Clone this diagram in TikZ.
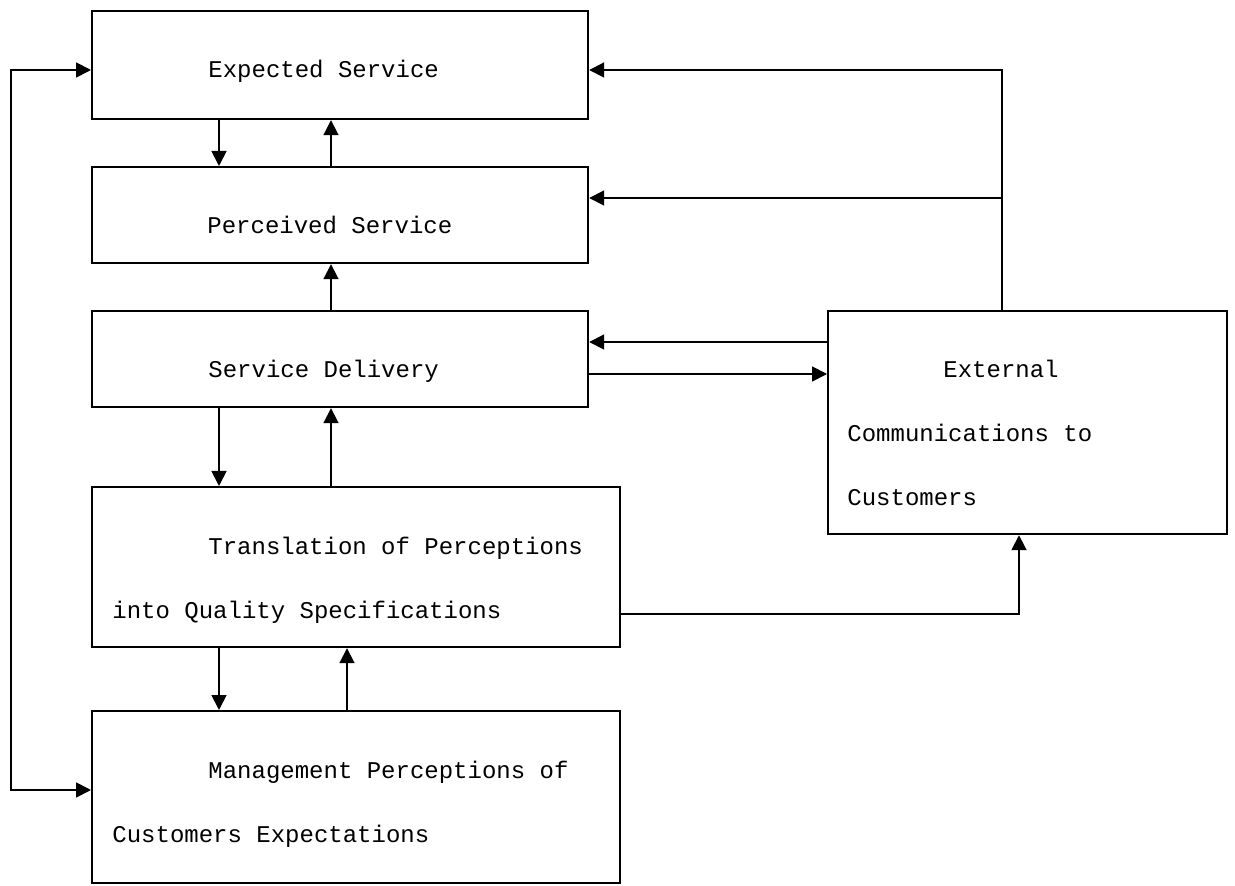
\documentclass[tikz,border=0pt]{standalone}
\usepackage{fontspec}
\setmonofont{Liberation Mono}
\usetikzlibrary{arrows.meta,positioning}

\begin{document}
\begin{tikzpicture}[
    x=0.5pt, y=-0.5pt,
    box/.style={draw, line width=1.1pt, anchor=north west, inner sep=0pt},
    txt/.style={anchor=base west, align=left, inner sep=0pt, font=\fontsize{12pt}{32pt}\selectfont\ttfamily},
    arrow/.style={-{Triangle[length=7.5pt, width=7.5pt]}, line width=0.9pt},
    dual/.style={{Triangle[length=7.5pt, width=7.5pt]}-{Triangle[length=7.5pt, width=7.5pt]}, line width=0.9pt}
]
    \useasboundingbox (0,0) rectangle (1235,886);
    % boxes
    \node[box, minimum width=248pt, minimum height=54pt] (expected) at (91,10) {};
    \node[box, minimum width=248pt, minimum height=48pt] (perceived) at (91,166) {};
    \node[box, minimum width=248pt, minimum height=48pt] (delivery) at (91,310) {};
    \node[box, minimum width=264pt, minimum height=80pt] (translation) at (91,486) {};
    \node[box, minimum width=264pt, minimum height=86pt] (management) at (91,710) {};
    \node[box, minimum width=199.5pt, minimum height=111.5pt] (external) at (827,310) {};
    % texts (base = last line)
    \node[txt] (expected-txt) at ([shift={(58.5pt,-34pt)}]expected.north west) {Expected Service};
    \node[txt] (perceived-txt) at ([shift={(58pt,-34pt)}]perceived.north west) {Perceived Service};
    \node[txt] (delivery-txt) at ([shift={(58.5pt,-34pt)}]delivery.north west) {Service Delivery};
    \node[txt] (translation-txt) at ([shift={(10.5pt,-66pt)}]translation.north west)
        {\hspace*{48pt}Translation of Perceptions\\into Quality Specifications};
    \node[txt] (management-txt) at ([shift={(10.5pt,-66pt)}]management.north west)
        {\hspace*{48pt}Management Perceptions of\\Customers Expectations};
    \node[txt] (external-txt) at ([shift={(10pt,-98pt)}]external.north west)
        {\hspace*{48pt}External\\Communications to\\Customers};
    % columns and rows of the connectors
    \coordinate (colA) at (219,0);
    \coordinate (colB) at (331,0);
    \coordinate (colC) at (347,0);
    \coordinate (colD) at (1002,0);
    \coordinate (colE) at (1019,0);
    \coordinate (rail) at (11,0);
    \coordinate (rowA) at (0,70);
    \coordinate (rowB) at (0,198);
    \coordinate (rowC) at (0,342);
    \coordinate (rowD) at (0,374);
    \coordinate (rowE) at (0,614);
    \coordinate (rowF) at (0,790);
    % connectors
    \draw[arrow] (expected.south -| colA) -- (perceived.north -| colA);
    \draw[arrow] (perceived.north -| colB) -- (expected.south -| colB);
    \draw[arrow] (delivery.north -| colB) -- (perceived.south -| colB);
    \draw[arrow] (delivery.south -| colA) -- (translation.north -| colA);
    \draw[arrow] (translation.north -| colB) -- (delivery.south -| colB);
    \draw[arrow] (translation.south -| colA) -- (management.north -| colA);
    \draw[arrow] (management.north -| colC) -- (translation.south -| colC);
    \draw[arrow] (external.north -| colD) -- (colD |- rowA) -- (expected.east |- rowA);
    \draw[arrow] (colD |- rowB) -- (perceived.east |- rowB);
    \draw[arrow] (external.west |- rowC) -- (delivery.east |- rowC);
    \draw[arrow] (delivery.east |- rowD) -- (external.west |- rowD);
    \draw[arrow] (translation.east |- rowE) -- (colE |- rowE) -- (external.south -| colE);
    \draw[dual] (expected.west |- rowA) -- (rail |- rowA) -- (rail |- rowF) -- (management.west |- rowF);
\end{tikzpicture}
\end{document}
